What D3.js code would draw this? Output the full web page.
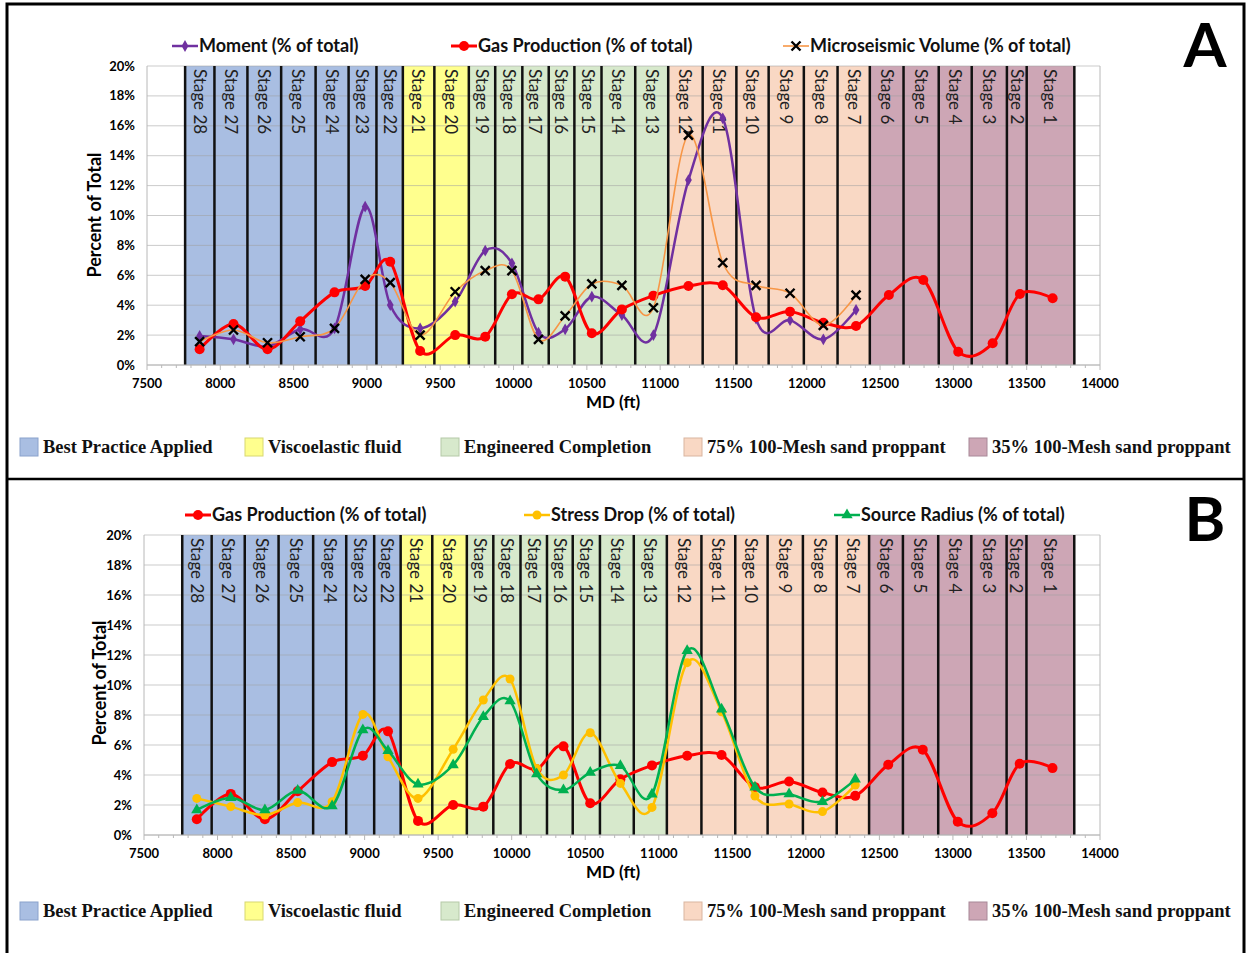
<!DOCTYPE html>
<html>
<head>
<meta charset="utf-8">
<script src="https://cdn.jsdelivr.net/npm/d3@7"></script>
<style>
  body { margin: 0; background: #fff; }
  svg { display: block; }
  .sans { font-family: Lato, "Open Sans", sans-serif; }
  .serif { font-family: "Liberation Serif", "Times New Roman", serif; }
</style>
</head>
<body>
<svg id="chart" width="1247" height="953"></svg>
<script>
// measured depth (ft) of each stage's data point, stage 28 first
var stageMd = [7859, 8090, 8322, 8545, 8779, 8988, 9159, 9363, 9602, 9807, 9989, 10170, 10352, 10534,
	10739, 10954, 11193, 11427, 11654, 11886, 12113, 12336, 12560, 12795, 13033, 13268, 13454, 13677];
var stageNames = d3.range(28, 0, -1).map(function (n) { return "Stage " + n; });
// stage edges (ft), 29 values for 28 stages
var stageEdges = [7760, 7960, 8185, 8415, 8650, 8875, 9065, 9245, 9460, 9695, 9875, 10060, 10240, 10415,
	10600, 10830, 11055, 11290, 11520, 11740, 11980, 12210, 12430, 12660, 12900, 13125, 13365, 13500, 13825];
// how many stages belong to each completion group, in order
var groupNames = ["Best Practice Applied", "Viscoelastic fluid", "Engineered Completion",
	"75% 100-Mesh sand proppant", "35% 100-Mesh sand proppant"];
var groupSizes = [7, 2, 7, 6, 6];

// series, percent of total
var gasProduction = [1.05, 2.74, 1.05, 2.92, 4.86, 5.28, 6.91, 0.94, 2.0, 1.89, 4.73, 4.39, 5.91, 2.12,
	3.72, 4.64, 5.28, 5.33, 3.19, 3.57, 2.83, 2.61, 4.68, 5.69, 0.89, 1.45, 4.75, 4.46];
var moment = [1.94, 1.72, 1.25, 2.39, 2.45, 10.59, 4.01, 2.45, 4.24, 7.65, 6.8, 2.16, 2.39, 4.57,
	3.34, 2.0, 12.37, 16.5, 3.1, 3.0, 1.72, 3.68];
var microseismic = [1.56, 2.34, 1.49, 1.89, 2.45, 5.73, 5.51, 2.0, 4.9, 6.31, 6.31, 1.72, 3.28, 5.42,
	5.33, 3.83, 15.38, 6.84, 5.33, 4.8, 2.65, 4.68];
var stressDrop = [2.44, 1.89, 1.33, 2.16, 2.22, 8.04, 5.22, 2.44, 5.71, 9.0, 10.4, 4.44, 4.0, 6.82,
	3.44, 1.84, 11.49, 8.22, 2.6, 2.07, 1.56, 3.33];
var sourceRadius = [1.67, 2.49, 1.67, 2.96, 1.93, 7.0, 5.62, 3.38, 4.67, 7.89, 8.93, 4.07, 3.0, 4.16,
	4.62, 2.71, 12.29, 8.38, 3.18, 2.73, 2.22, 3.71];

var xTicks = d3.range(7500, 14001, 500);
var yTicks = d3.range(0, 21, 2);

var groupFill = ["#a9bee2", "#ffff8e", "#d7e9cc", "#f9d8c4", "#cda6b5"];
var groupEdge = ["#8aa2cc", "#d8d870", "#b5c9a8", "#d9b5a0", "#a88898"];

// style of each series: colour, line width, marker
var seriesStyle = {
	moment: { label: "Moment (% of total)", color: "#7030a0", width: 2.5, marker: "diamond" },
	gas: { label: "Gas Production (% of total)", color: "#ff0000", width: 3, marker: "circle" },
	micro: { label: "Microseismic Volume (% of total)", color: "#f79646", width: 1.6, marker: "cross" },
	stress: { label: "Stress Drop (% of total)", color: "#ffc000", width: 2.5, marker: "dot" },
	radius: { label: "Source Radius (% of total)", color: "#00b050", width: 2.5, marker: "triangle" }
};

var svg = d3.select("#chart");

// outer frame
svg.append("path")
	.attr("d", "M7,953 V4 H1244 V953")
	.attr("fill", "none").attr("stroke", "#000").attr("stroke-width", 3);
svg.append("line").attr("x1", 7).attr("x2", 1244).attr("y1", 479).attr("y2", 479)
	.attr("stroke", "#000").attr("stroke-width", 2.5);

var stageGroup = [];
groupSizes.forEach(function (n, gi) { for (var k = 0; k < n; k++) stageGroup.push(gi); });

function drawMarker(g, type, cx, cy, color) {
	if (type === "circle") {
		g.append("circle").attr("cx", cx).attr("cy", cy).attr("r", 5).attr("fill", color);
	} else if (type === "dot") {
		g.append("circle").attr("cx", cx).attr("cy", cy).attr("r", 4.5).attr("fill", color);
	} else if (type === "diamond") {
		g.append("path").attr("d", d3.symbol(d3.symbolDiamond, 40)()).attr("transform", "translate(" + cx + "," + cy + ")")
			.attr("fill", color);
	} else if (type === "triangle") {
		g.append("path").attr("d", d3.symbol(d3.symbolTriangle, 55)()).attr("transform", "translate(" + cx + "," + cy + ")")
			.attr("fill", color);
	} else if (type === "cross") {
		g.append("path").attr("d", "M-4.5,-4.5L4.5,4.5M-4.5,4.5L4.5,-4.5").attr("transform", "translate(" + cx + "," + cy + ")")
			.attr("stroke", "#000").attr("stroke-width", 2.4).attr("fill", "none");
	}
}

function drawPanel(opt) {
	var x = d3.scaleLinear().domain([7500, 14000]).range([opt.left, 1100]);
	var y = d3.scaleLinear().domain([0, 20]).range([opt.bottom, opt.top]);
	var g = svg.append("g");

	// stage bands
	g.selectAll("rect.band").data(stageNames).enter().append("rect")
		.attr("x", function (d, i) { return x(stageEdges[i]); })
		.attr("width", function (d, i) { return x(stageEdges[i + 1]) - x(stageEdges[i]); })
		.attr("y", y(20)).attr("height", y(0) - y(20))
		.attr("fill", function (d, i) { return groupFill[stageGroup[i]]; });

	// gridlines
	g.selectAll("line.grid").data(yTicks).enter().append("line")
		.attr("x1", x(7500)).attr("x2", x(14000))
		.attr("y1", function (d) { return y(d); }).attr("y2", function (d) { return y(d); })
		.attr("stroke", "#a0a0a0").attr("stroke-opacity", 0.55).attr("stroke-width", 1);
	g.append("line").attr("x1", x(14000)).attr("x2", x(14000)).attr("y1", y(20)).attr("y2", y(0))
		.attr("stroke", "#b8b8b8");
	g.append("line").attr("x1", x(7500)).attr("x2", x(7500)).attr("y1", y(20)).attr("y2", y(0))
		.attr("stroke", "#b8b8b8");

	// stage edges
	g.selectAll("line.edge").data(stageEdges).enter().append("line")
		.attr("x1", function (d) { return x(d); }).attr("x2", function (d) { return x(d); })
		.attr("y1", y(20)).attr("y2", y(0))
		.attr("stroke", "#111").attr("stroke-width", 2.5);

	// stage labels
	g.selectAll("text.stage").data(stageNames).enter().append("text")
		.attr("class", "sans")
		.attr("transform", function (d, i) {
			var cx = (x(stageEdges[i]) + x(stageEdges[i + 1])) / 2;
			return "translate(" + cx + "," + (y(20) + 3) + ") rotate(90)";
		})
		.attr("dy", "0.36em")
		.attr("font-size", 17).attr("fill", "#222")
		.text(function (d) { return d; });

	// x axis
	var xAxis = g.append("g").attr("transform", "translate(0," + y(0) + ")");
	xAxis.append("line").attr("x1", x(7500)).attr("x2", x(14000)).attr("stroke", "#b8b8b8");
	xAxis.selectAll("line.minor").data(d3.range(7500, 14001, 100)).enter().append("line")
		.attr("x1", function (d) { return x(d); }).attr("x2", function (d) { return x(d); })
		.attr("y1", 0).attr("y2", function (d) { return d % 500 === 0 ? 5 : 3; })
		.attr("stroke", "#b8b8b8");
	xAxis.selectAll("text").data(xTicks).enter().append("text")
		.attr("class", "sans")
		.attr("x", function (d) { return x(d); }).attr("y", 23)
		.attr("text-anchor", "middle").attr("font-size", 13).attr("font-weight", "bold")
		.text(function (d) { return d; });
	g.append("text").attr("class", "sans")
		.attr("x", 613).attr("y", y(0) + 43)
		.attr("text-anchor", "middle").attr("font-size", 17).attr("font-weight", "bold")
		.text("MD (ft)");

	// y axis
	g.selectAll("text.ytick").data(yTicks).enter().append("text")
		.attr("class", "sans")
		.attr("x", opt.left - 12).attr("y", function (d) { return y(d); })
		.attr("dy", "0.35em").attr("text-anchor", "end")
		.attr("font-size", 13).attr("font-weight", "bold")
		.text(function (d) { return d + "%"; });
	g.append("text").attr("class", "sans")
		.attr("transform", "translate(" + opt.ytitleX + "," + opt.ytitleY + ") rotate(-90)")
		.attr("text-anchor", "middle").attr("font-size", 18).attr("font-weight", "bold")
		.text("Percent of Total");

	// series
	var line = d3.line()
		.x(function (d) { return x(d[0]); })
		.y(function (d) { return y(d[1]); })
		.curve(d3.curveCardinal.tension(0));
	opt.series.forEach(function (s) {
		var st = seriesStyle[s.key];
		var pts = s.values.map(function (v, i) { return [stageMd[i], v]; });
		g.append("path").datum(pts).attr("d", line)
			.attr("fill", "none").attr("stroke", st.color).attr("stroke-width", st.width);
		pts.forEach(function (p) { drawMarker(g, st.marker, x(p[0]), y(p[1]), st.color); });
	});

	// series legend
	opt.series.forEach(function (s, i) {
		var st = seriesStyle[s.key];
		var lx = opt.legendX[i], ly = opt.legendY;
		g.append("line").attr("x1", lx).attr("x2", lx + 26).attr("y1", ly).attr("y2", ly)
			.attr("stroke", st.color).attr("stroke-width", st.width);
		drawMarker(g, st.marker, lx + 13, ly, st.color);
		g.append("text").attr("class", "sans")
			.attr("x", lx + 27).attr("y", ly).attr("dy", "0.35em")
			.attr("font-size", 18).attr("font-weight", "bold").attr("fill", "#111")
			.text(st.label);
	});

	// panel letter
	g.append("text").attr("class", "sans")
		.attr("x", 1205).attr("y", opt.letterY)
		.attr("text-anchor", "middle").attr("font-size", 62).attr("font-weight", "bold")
		.text(opt.letter);

	// completion legend
	var gx = [20, 245, 441, 684, 969];
	groupNames.forEach(function (name, i) {
		g.append("rect").attr("x", gx[i]).attr("y", opt.groupY - 9).attr("width", 18).attr("height", 18)
			.attr("fill", groupFill[i]).attr("stroke", groupEdge[i]).attr("stroke-width", 1);
		g.append("text").attr("class", "serif")
			.attr("x", gx[i] + 23).attr("y", opt.groupY).attr("dy", "0.33em")
			.attr("font-size", 18.5).attr("font-weight", "bold").attr("fill", "#111")
			.text(name);
	});
}

drawPanel({
	left: 147, top: 66, bottom: 365, letter: "A", letterY: 67,
	ytitleX: 101, ytitleY: 215,
	legendY: 46, legendX: [172, 451, 783], groupY: 447,
	series: [{ key: "moment", values: moment }, { key: "gas", values: gasProduction },
		{ key: "micro", values: microseismic }]
});
drawPanel({
	left: 144, top: 535, bottom: 835, letter: "B", letterY: 541,
	ytitleX: 106, ytitleY: 683,
	legendY: 515, legendX: [185, 524, 834], groupY: 911,
	series: [{ key: "gas", values: gasProduction }, { key: "stress", values: stressDrop },
		{ key: "radius", values: sourceRadius }]
});
</script>
</body>
</html>
